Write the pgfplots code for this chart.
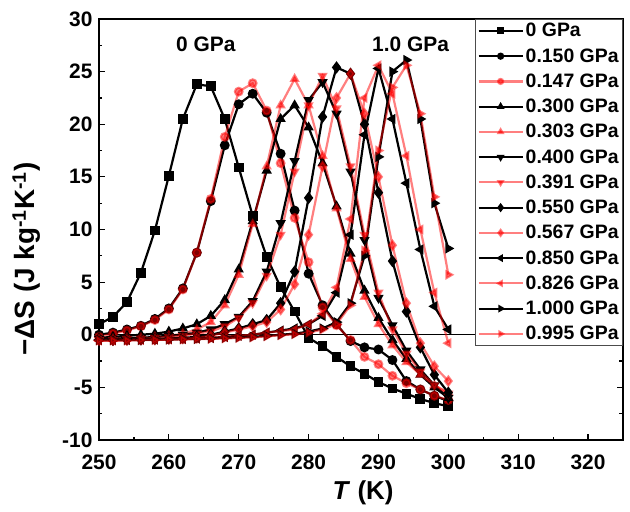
\documentclass[border=0pt]{standalone}
\usepackage{fontspec}
\setmainfont{Liberation Sans}
\usepackage{pgfplots}
\pgfplotsset{compat=1.18}

\pgfplotsset{
  blk/.style={black, line width=2.2bp, mark size=3.8bp, mark options={solid, fill=black}},
  pnk/.style={red, opacity=0.5, line width=2.2bp, mark size=3.8bp, mark options={solid, fill=red}},
}

\begin{document}
\begin{tikzpicture}
\begin{axis}[
  at={(0,0)}, anchor=south west,
  scale only axis, width=524bp, height=421bp,
  xmin=250, xmax=325, ymin=-10, ymax=30,
  xtick={250,260,...,320}, ytick={-10,-5,...,30},
  minor x tick num=1, minor y tick num=1,
  tick align=inside, xtick pos=bottom, ytick pos=both,
  major tick length=6bp, minor tick length=3.5bp,
  tick style={black, line width=1.2bp},
  axis line style={line width=1.2bp},
  /pgf/number format/assume math mode=true,
  ticklabel style={font=\fontsize{21}{21}\selectfont\bfseries},
  xticklabel style={yshift=-11bp},
  yticklabel style={xshift=-3bp},
  xlabel={\textit{T} (K)},
  ylabel={−ΔS (J kg\textsuperscript{-1}K\textsuperscript{-1})},
  label style={font=\fontsize{26}{26}\selectfont\bfseries},
  xlabel style={at={(axis description cs:0.504,-0.126)}, anchor=center},
  ylabel style={at={(axis description cs:-0.138,0.43)}, anchor=center,
    font=\fontsize{28}{28}\selectfont\bfseries},
  legend style={at={(1,1)}, anchor=north east, draw=black!70, fill=white,
    font=\fontsize{19.5}{19.5}\selectfont\bfseries, row sep=6.2bp, inner sep=2bp,
    line width=0.8bp},
  legend cell align=left,
  legend image code/.code={\draw[mark repeat=2,mark phase=2,#1,every mark/.append style={scale=0.65}]
    plot coordinates {(0bp,0bp)(22bp,0bp)(44bp,0bp)};},
]
\addplot[black, line width=1bp, forget plot] coordinates {(250,0) (325,0)};

% 0 GPa
\addplot[blk, mark=square*] coordinates {
(250,1.0)(252,1.7)(254,3.1)(256,5.9)(258,9.9)(260,15.1)(262,20.5)(264,23.8)(266,23.6)(268,20.5)
(270,15.9)(272,11.3)(274,7.4)(276,4.5)(278,2.2)(280,-0.3)(282,-1.1)(284,-2.1)(286,-3.0)(288,-3.7)
(290,-4.5)(292,-5.1)(294,-5.6)(296,-6.1)(298,-6.5)(300,-6.8)};
\addlegendentry{0 GPa}
% 0.150 GPa
\addplot[blk, mark=*] coordinates {
(250,0.0)(252,0.2)(254,0.5)(256,0.85)(258,1.5)(260,2.5)(262,4.4)(264,7.8)(266,12.7)(268,18.0)
(270,21.9)(272,22.9)(274,21.1)(276,17.2)(278,11.8)(280,5.8)(282,2.8)(284,1.0)(286,-0.6)(288,-1.2)
(290,-1.4)(292,-2.4)(294,-4.4)(296,-5.2)(298,-5.8)(300,-6.3)};
\addlegendentry{0.150 GPa}
% 0.147 GPa
\addplot[pnk, mark=*] coordinates {
(250,-0.2)(252,0.1)(254,0.4)(256,0.8)(258,1.4)(260,2.4)(262,4.3)(264,7.8)(266,12.9)(268,18.8)
(270,23.1)(272,23.9)(274,21.3)(276,16.3)(278,11.1)(280,6.9)(282,2.6)(284,0.9)(286,-0.5)(288,-2.1)
(290,-2.8)(292,-3.9)(294,-4.6)(296,-5.2)(298,-5.8)(300,-6.2)};
\addlegendentry{0.147 GPa}
% 0.300 GPa
\addplot[blk, mark=triangle*] coordinates {
(250,-0.3)(252,-0.2)(254,-0.1)(256,0.0)(258,0.1)(260,0.3)(262,0.6)(264,1.0)(266,1.8)(268,3.3)
(270,6.2)(272,10.8)(274,15.6)(276,20.5)(278,21.8)(280,19.7)(282,16.3)(284,12.2)(286,7.7)(288,4.2)
(290,1.6)(292,-0.5)(294,-2.3)(296,-3.8)(298,-5.0)(300,-6.0)};
\addlegendentry{0.300 GPa}
% 0.303 GPa
\addplot[pnk, mark=triangle*] coordinates {
(250,-0.4)(252,-0.4)(254,-0.3)(256,-0.3)(258,-0.2)(260,-0.1)(262,0.1)(264,0.5)(266,1.2)(268,2.8)
(270,5.7)(272,10.5)(274,16.0)(276,21.8)(278,24.3)(280,21.8)(282,17.0)(284,12.0)(286,7.2)(288,3.6)
(290,1.0)(292,-1.0)(294,-2.6)(296,-3.8)(298,-4.8)(300,-5.5)};
\addlegendentry{0.303 GPa}
% 0.400 GPa
\addplot[blk, mark=triangle*, mark options={rotate=180}] coordinates {
(250,-0.4)(252,-0.4)(254,-0.3)(256,-0.3)(258,-0.2)(260,-0.1)(262,0.0)(264,0.2)(266,0.5)(268,1.0)
(270,1.7)(272,3.2)(274,6.0)(276,10.6)(278,16.5)(280,22.3)(282,24.0)(284,21.0)(286,15.5)(288,9.0)
(290,3.5)(292,0.9)(294,-1.5)(296,-3.3)(298,-4.8)(300,-6.0)};
\addlegendentry{0.400 GPa}
% 0.391 GPa
\addplot[pnk, mark=triangle*, mark options={rotate=180}] coordinates {
(250,-0.5)(252,-0.5)(254,-0.4)(256,-0.4)(258,-0.3)(260,-0.2)(262,-0.1)(264,0.1)(266,0.3)(268,0.8)
(270,1.6)(272,3.0)(274,5.6)(276,9.5)(278,15.5)(280,21.8)(282,24.6)(284,21.5)(286,16.0)(288,9.5)
(290,4.0)(292,0.5)(294,-1.8)(296,-3.5)(298,-4.8)(300,-5.6)};
\addlegendentry{0.391 GPa}
% 0.550 GPa
\addplot[blk, mark=diamond*, mark size=4.4bp] coordinates {
(250,-0.5)(252,-0.5)(254,-0.45)(256,-0.45)(258,-0.4)(260,-0.35)(262,-0.3)(264,-0.2)(266,0.0)(268,0.3)
(270,0.6)(272,1.0)(274,1.4)(276,3.0)(278,6.0)(280,13.0)(282,20.7)(284,25.4)(286,24.8)(288,20.0)
(290,13.5)(292,7.0)(294,2.2)(296,-1.2)(298,-3.8)(300,-5.5)};
\addlegendentry{0.550 GPa}
% 0.567 GPa
\addplot[pnk, mark=diamond*, mark size=4.4bp] coordinates {
(250,-0.5)(252,-0.5)(254,-0.5)(256,-0.45)(258,-0.45)(260,-0.4)(262,-0.35)(264,-0.3)(266,-0.1)(268,0.2)
(270,0.5)(272,0.8)(274,1.2)(276,2.4)(278,4.8)(280,9.5)(282,16.0)(284,22.5)(286,24.8)(288,21.0)
(290,15.0)(292,8.5)(294,3.0)(296,-0.8)(298,-3.0)(300,-4.4)};
\addlegendentry{0.567 GPa}
% 0.850 GPa
\addplot[blk, mark=triangle*, mark options={rotate=90}] coordinates {
(250,-0.5)(252,-0.5)(254,-0.5)(256,-0.45)(258,-0.45)(260,-0.4)(262,-0.4)(264,-0.35)(266,-0.3)(268,-0.2)
(270,-0.1)(272,0.0)(274,0.2)(276,0.4)(278,0.6)(280,1.0)(282,1.8)(284,4.0)(286,9.5)(288,19.0)
(290,25.3)(292,20.5)(294,14.4)(296,8.1)(298,2.7)(300,0.5)};
\addlegendentry{0.850 GPa}
% 0.826 GPa
\addplot[pnk, mark=triangle*, mark options={rotate=90}] coordinates {
(250,-0.55)(252,-0.55)(254,-0.5)(256,-0.5)(258,-0.45)(260,-0.45)(262,-0.4)(264,-0.35)(266,-0.3)(268,-0.2)
(270,-0.1)(272,0.0)(274,0.2)(276,0.35)(278,0.5)(280,1.0)(282,2.0)(284,4.5)(286,11.0)(288,22.5)
(290,25.6)(292,22.9)(294,17.0)(296,10.0)(298,4.0)(300,-0.8)};
\addlegendentry{0.826 GPa}
% 1.000 GPa
\addplot[blk, mark=triangle*, mark options={rotate=-90}] coordinates {
(250,-0.5)(252,-0.5)(254,-0.5)(256,-0.5)(258,-0.45)(260,-0.45)(262,-0.4)(264,-0.4)(266,-0.35)(268,-0.3)
(270,-0.25)(272,-0.2)(274,-0.1)(276,0.0)(278,0.1)(280,0.3)(282,0.6)(284,1.2)(286,3.0)(288,7.5)
(290,16.9)(292,25.0)(294,26.1)(296,20.5)(298,12.5)(300,8.2)};
\addlegendentry{1.000 GPa}
% 0.995 GPa
\addplot[pnk, mark=triangle*, mark options={rotate=-90}] coordinates {
(250,-0.55)(252,-0.55)(254,-0.55)(256,-0.5)(258,-0.5)(260,-0.45)(262,-0.45)(264,-0.4)(266,-0.4)(268,-0.35)
(270,-0.3)(272,-0.25)(274,-0.15)(276,-0.05)(278,0.05)(280,0.2)(282,0.5)(284,1.0)(286,2.8)(288,8.0)
(290,17.5)(292,23.5)(294,25.6)(296,21.0)(298,13.1)(300,5.7)};
\addlegendentry{0.995 GPa}

\node[font=\fontsize{21}{21}\selectfont\bfseries] at (axis cs:265.3,27.6) {0 GPa};
\node[font=\fontsize{21}{21}\selectfont\bfseries] at (axis cs:294.6,27.6) {1.0 GPa};
\end{axis}
\pgfresetboundingbox
\useasboundingbox (-99bp,-72bp) rectangle (531bp,440bp);
\end{tikzpicture}
\end{document}
